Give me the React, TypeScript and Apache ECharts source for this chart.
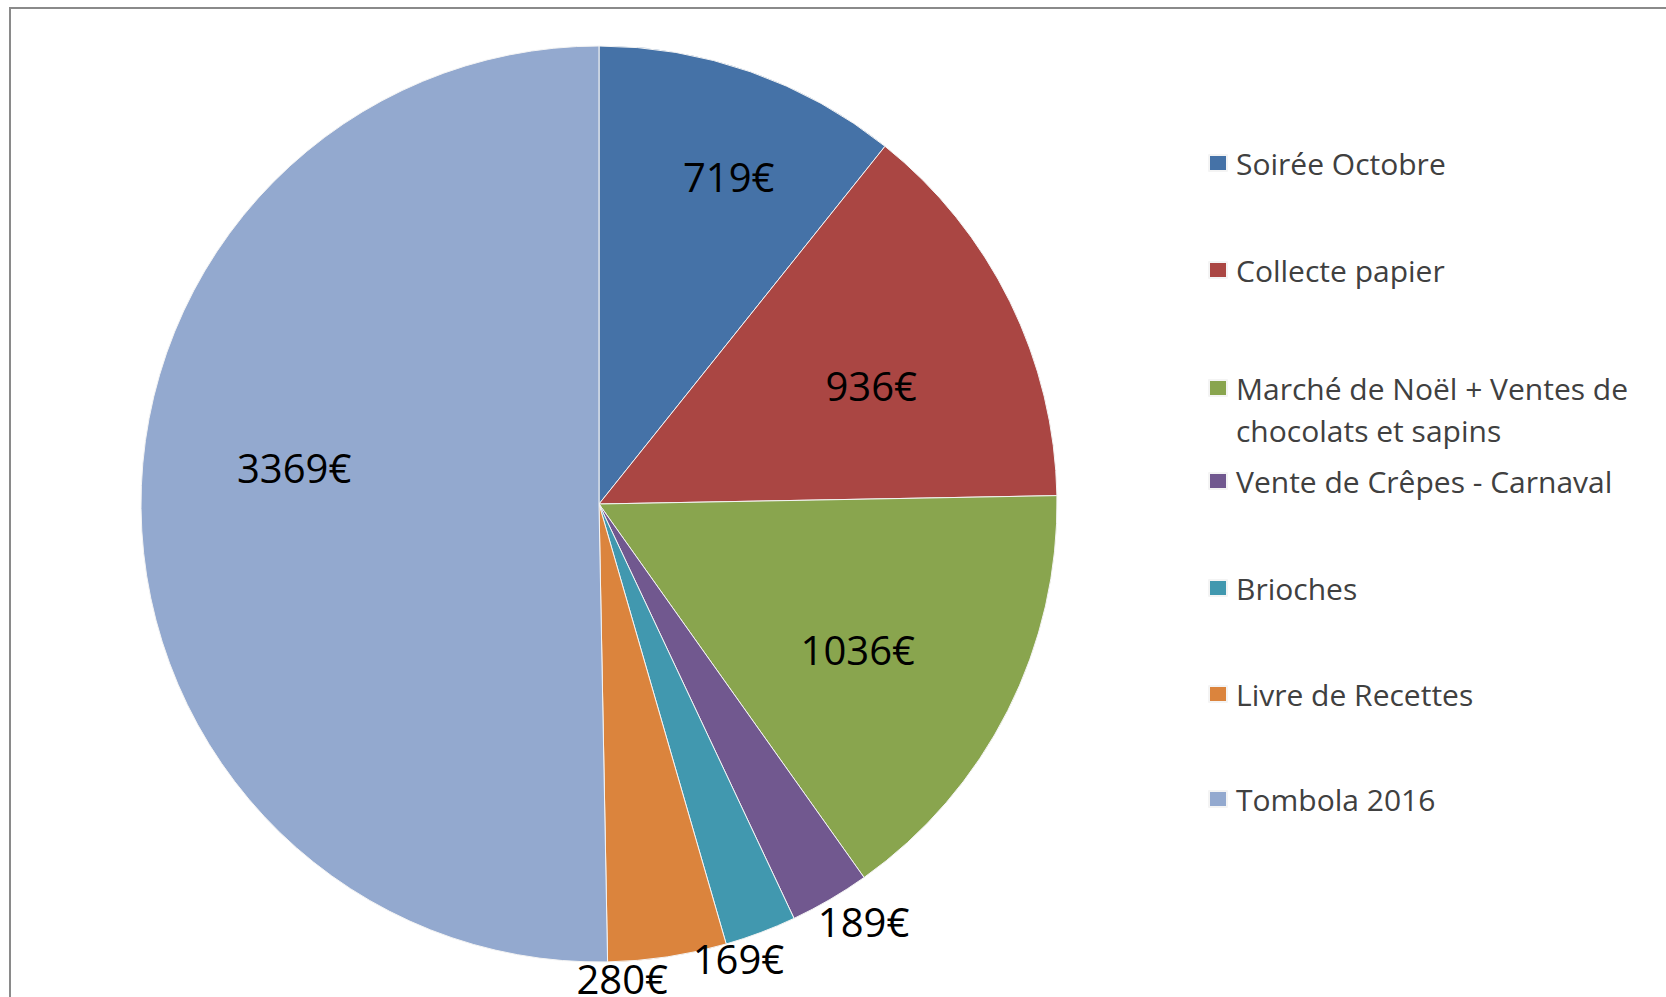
import React, { useEffect, useRef } from "react";
import * as echarts from "echarts";

const categories = [
  "Soirée Octobre",
  "Collecte papier",
  "Marché de Noël + Ventes de chocolats et sapins",
  "Vente de Crêpes - Carnaval",
  "Brioches",
  "Livre de Recettes",
  "Tombola 2016",
];
const amounts = [719, 936, 1036, 189, 169, 280, 3369];
const legendLines = [
  "Soirée Octobre",
  "Collecte papier",
  "Marché de Noël + Ventes de\nchocolats et sapins",
  "Vente de Crêpes - Carnaval",
  "Brioches",
  "Livre de Recettes",
  "Tombola 2016",
];

const colors = ["#4572A7", "#AA4643", "#89A54E", "#71588F", "#4198AF", "#DB843D", "#93A9CF"];
// which label ring each slice's value label uses (layout choice)
const labelRing = ["A", "B", "B", "D", "E", "F", "C"];
// label rings: inner / outer radius (px) and small angular nudge (deg)
const ringDefs = [
  { key: "A", inner: 240, outer: 458, shift: 2.3 },
  { key: "B", inner: 130, outer: 458, shift: 2.6 },
  { key: "C", inner: 150, outer: 458, shift: 7.3 },
  { key: "D", inner: 458, outer: 524, shift: -2.1 },
  { key: "E", inner: 458, outer: 486, shift: 3.6 },
  { key: "F", inner: 458, outer: 486, shift: 5.8 },
];
const legendCenters = [163, 270, 375, 481, 588, 694, 799];

const CX = 599;
const CY = 504;
const R = 458;

export default function App() {
  const ref = useRef<HTMLDivElement>(null);
  useEffect(() => {
    const chart = echarts.init(ref.current!, undefined, { renderer: "svg" });
    const font = "'Open Sans', sans-serif";
    const mainData = categories.map((name, i) => ({
      name,
      value: amounts[i],
      itemStyle: { color: colors[i] },
    }));
    const labelSeries = ringDefs.map((ring) => ({
      type: "pie",
      center: [CX, CY],
      radius: [ring.inner, ring.outer],
      startAngle: 90 - ring.shift,
      clockwise: true,
      silent: true,
      z: 5,
      emphasis: { disabled: true },
      labelLine: { show: false },
      itemStyle: { color: "rgba(0,0,0,0)", borderWidth: 0 },
      data: categories.map((name, i) => ({
        name,
        value: amounts[i],
        label: { show: labelRing[i] === ring.key },
      })),
      label: {
        position: "inside",
        formatter: (p: any) => p.value + "€",
        color: "#000",
        fontFamily: font,
        fontSize: 40,
        rotate: 0,
      },
    }));
    const legends = categories.map((name, i) => {
      const twoLine = legendLines[i].indexOf("\n") >= 0;
      return {
        data: [name],
        left: 1208,
        top: legendCenters[i] - (twoLine ? 8 : 16),
        orient: "vertical",
        icon: twoLine ? "path://M0,0H18V16H0Z M0,58L0.01,58" : "rect",
        itemWidth: 18,
        itemHeight: twoLine ? 58 : 16,
        selectedMode: false,
        padding: 0,
        formatter: () => legendLines[i],
        textStyle: {
          fontFamily: font,
          fontSize: 30,
          lineHeight: twoLine ? 42 : 32,
          color: "#404040",
          padding: [0, 0, 0, 4],
        },
      };
    });
    chart.setOption({
      animation: false,
      backgroundColor: "#ffffff",
      legend: legends,
      graphic: [
        { type: "line", shape: { x1: 9, y1: 8, x2: 1666, y2: 8 }, style: { stroke: "#8a8a8a", lineWidth: 2 } },
        { type: "line", shape: { x1: 10, y1: 7, x2: 10, y2: 997 }, style: { stroke: "#8a8a8a", lineWidth: 2 } },
      ],
      series: [
        {
          type: "pie",
          center: [CX, CY],
          radius: R,
          startAngle: 90,
          clockwise: true,
          label: { show: false },
          labelLine: { show: false },
          emphasis: { disabled: true },
          itemStyle: { borderColor: "#f4f4f4", borderWidth: 1 },
          data: mainData,
        },
        ...labelSeries,
      ],
    });
    return () => chart.dispose();
  }, []);
  return (
    <div
      ref={ref}
      style={{ position: "fixed", left: 0, top: 0, width: 1666, height: 997 }}
    />
  );
}
